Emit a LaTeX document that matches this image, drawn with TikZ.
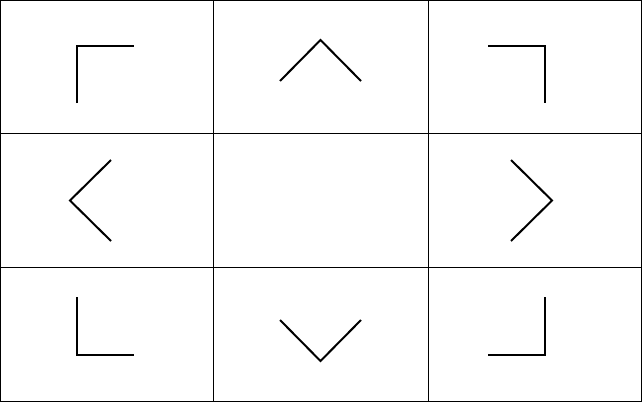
\documentclass[tikz,border=0pt]{standalone}
\usepackage{tikz}
\usetikzlibrary{positioning}
\tikzstyle{gridline} = [line width=1pt,color=black]
\tikzstyle{glyph} = [line width=2pt,color=black]
\begin{document}
\begin{tikzpicture}[x=1pt,y=-1pt]
\useasboundingbox (0,0) rectangle (642,402);
% cells
\draw[gridline] (0.5,0.5) rectangle (641.5,401.5);
\foreach \gx in {213.5,428.5}
  \draw[gridline] (\gx,0.5) -- (\gx,401.5);
\foreach \gy in {133.5,267.5}
  \draw[gridline] (0.5,\gy) -- (641.5,\gy);
% corners
\draw[glyph] (77,103) -- (77,46) -- (134,46);
\draw[glyph] (488,46) -- (545,46) -- (545,103);
\draw[glyph] (77,297) -- (77,355) -- (134,355);
\draw[glyph] (488,355) -- (545,355) -- (545,297);
% chevrons
\draw[glyph] (280,81) -- (320.5,40) -- (361,81);
\draw[glyph] (111,160) -- (70,200.5) -- (111,241);
\draw[glyph] (511,160) -- (552,200.5) -- (511,241);
\draw[glyph] (280,320) -- (320.5,361) -- (361,320);
\end{tikzpicture}
\end{document}
